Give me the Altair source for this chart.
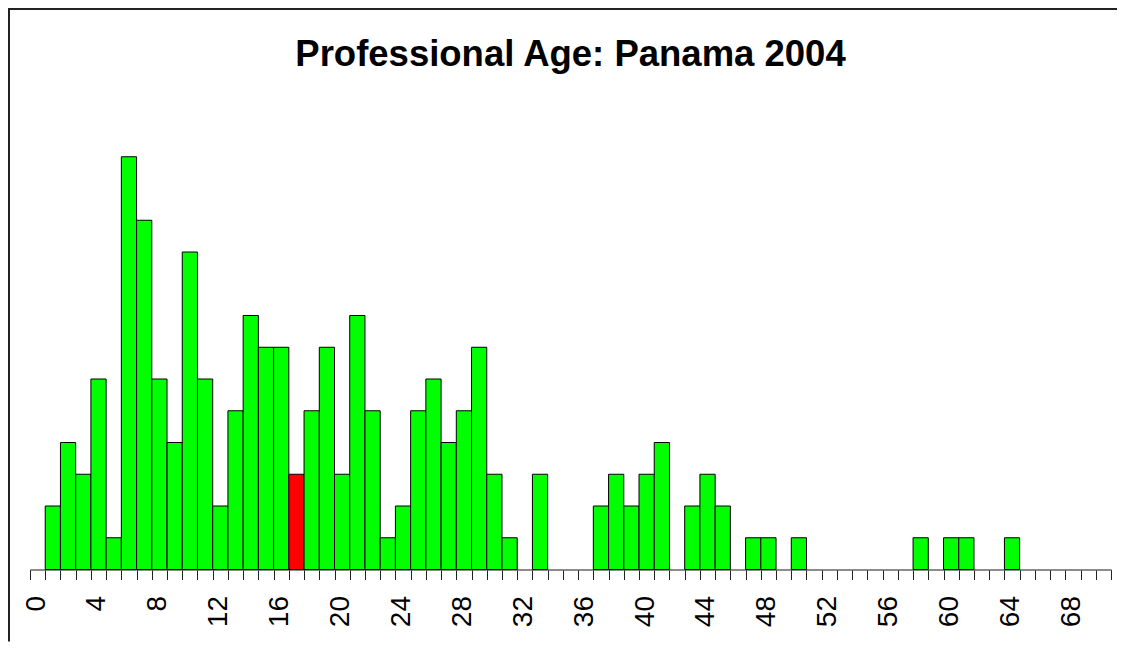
import altair as alt
import pandas as pd

# Histogram bins (bin start ages) with non-zero counts
ages = [1, 2, 3, 4, 5, 6, 7, 8, 9, 10, 11, 12, 13, 14, 15, 16, 17, 18, 19, 20,
        21, 22, 23, 24, 25, 26, 27, 28, 29, 30, 31, 33, 37, 38, 39, 40, 41, 43,
        44, 45, 47, 48, 50, 58, 60, 61, 64]
counts = [2, 4, 3, 6, 1, 13, 11, 6, 4, 10, 6, 2, 5, 8, 7, 7, 3, 5, 7, 3,
          8, 5, 1, 2, 5, 6, 4, 5, 7, 3, 1, 3, 2, 3, 2, 3, 4, 2,
          3, 2, 1, 1, 1, 1, 1, 1, 1]
highlight_ages = [17]
tick_labels = [0, 4, 8, 12, 16, 20, 24, 28, 32, 36, 40, 44, 48, 52, 56, 60, 64, 68]
axis_max = 71
title_text = "Professional Age: Panama 2004"

df = pd.DataFrame({
    "start": ages,
    "end": [a + 1 for a in ages],
    "count": counts,
    "base": [0] * len(ages),
    "group": ["highlight" if a in highlight_ages else "normal" for a in ages],
})

W = 1081
H = 444.5
PAD_L, PAD_T, PAD_R, PAD_B = 22, 117, 6, 72

bars = alt.Chart(df).mark_rect(stroke="black", strokeWidth=1).encode(
    x=alt.X("start:Q",
            scale=alt.Scale(domain=[0, axis_max], nice=False, zero=False),
            axis=alt.Axis(
                values=list(range(axis_max + 1)),
                labelExpr="indexof(" + str(tick_labels) + ", datum.value) >= 0 ? datum.label : ''",
                format="d",
                labelAngle=270,
                labelFont="Liberation Sans",
                labelFontSize=28,
                labelColor="black",
                labelPadding=16,
                labelOffset=6,
                labelOverlap=False,
                labelFlush=False,
                tickSize=10,
                tickColor="#222222",
                tickWidth=1,
                domainColor="#666666",
                domainWidth=1.5,
                grid=False,
                title=None,
            )),
    x2="end:Q",
    y=alt.Y("count:Q", scale=alt.Scale(domain=[0, 14], nice=False), axis=None),
    y2="base:Q",
    color=alt.Color("group:N",
                    scale=alt.Scale(domain=["normal", "highlight"],
                                    range=["#00FF00", "#FF0000"]),
                    legend=None),
)

frame_data = alt.Data(values=[{"k": 1}])
top_border = alt.Chart(frame_data).mark_rule(color="#222222", strokeWidth=2).encode(
    x=alt.value(-PAD_L), x2=alt.value(W + PAD_R), y=alt.value(-PAD_T + 1)
)
left_border = alt.Chart(frame_data).mark_rule(color="#222222", strokeWidth=2).encode(
    x=alt.value(-PAD_L + 1), y=alt.value(-PAD_T), y2=alt.value(H + PAD_B)
)
title_mark = alt.Chart(frame_data).mark_text(
    font="Liberation Sans", fontSize=36.5, fontWeight="bold", color="black",
    align="center", baseline="alphabetic",
).encode(
    x=alt.value(W / 2), y=alt.value(-PAD_T + 58), text=alt.value(title_text)
)

chart = alt.layer(bars, top_border, left_border, title_mark).properties(
    width=W,
    height=H,
    padding={"left": PAD_L, "top": PAD_T, "right": PAD_R, "bottom": PAD_B},
    autosize=alt.AutoSizeParams(type="none"),
    background="white",
).configure_view(stroke=None)

chart.save("out.html", embed_options={"renderer": "svg", "actions": False})
